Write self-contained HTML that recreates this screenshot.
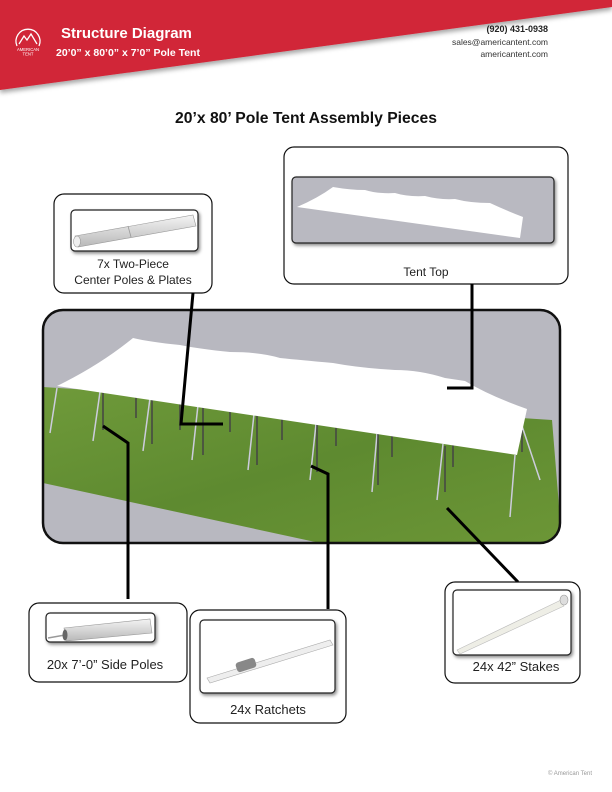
<!DOCTYPE html>
<html><head><meta charset="utf-8"><style>
html,body{margin:0;padding:0;background:#fff}
svg{display:block;font-family:"Liberation Sans",sans-serif}
</style></head><body>
<svg width="612" height="792" viewBox="0 0 612 792" xmlns="http://www.w3.org/2000/svg">
<defs>
<filter id="sh" x="-10%" y="-10%" width="130%" height="140%"><feDropShadow dx="1.5" dy="2" stdDeviation="1.5" flood-color="#000" flood-opacity="0.45"/></filter>
<filter id="hs" x="-5%" y="-20%" width="110%" height="150%"><feDropShadow dx="0" dy="3" stdDeviation="2.5" flood-color="#000" flood-opacity="0.35"/></filter>
<linearGradient id="gr" x1="0" y1="0" x2="1" y2="1"><stop offset="0" stop-color="#6f9a3a"/><stop offset="0.5" stop-color="#5e8a30"/><stop offset="1" stop-color="#6c9636"/></linearGradient>
<linearGradient id="pole" x1="0" y1="0" x2="0" y2="1"><stop offset="0" stop-color="#f4f4f4"/><stop offset="1" stop-color="#b8b8b8"/></linearGradient>
</defs>
<!-- header -->
<polygon points="0,0 612,0 612,7 0,90" fill="#d12537" filter="url(#hs)"/>
<g fill="none" stroke="#fff" stroke-width="1.3">
<path d="M17,46 A12,12 0 1 1 39,46"/>
<path d="M19,44 L24,36 L27,40 L31,34 L37,44"/>
</g>
<text x="28" y="51" font-size="4.2" fill="#fff" text-anchor="middle">AMERICAN</text>
<text x="28" y="55.5" font-size="4.2" fill="#fff" text-anchor="middle">TENT</text>
<text x="61" y="38" font-size="15" font-weight="bold" fill="#fff">Structure Diagram</text>
<text x="56" y="56" font-size="10.5" font-weight="bold" fill="#fff">20’0” x 80’0” x 7’0” Pole Tent</text>
<text x="548" y="32" font-size="9" font-weight="bold" fill="#222" text-anchor="end">(920) 431-0938</text>
<text x="548" y="45" font-size="8.5" fill="#333" text-anchor="end">sales@americantent.com</text>
<text x="548" y="57" font-size="8.5" fill="#333" text-anchor="end">americantent.com</text>
<text x="306" y="123" font-size="16" font-weight="bold" fill="#111" text-anchor="middle" textLength="262" lengthAdjust="spacingAndGlyphs">20’x 80’ Pole Tent Assembly Pieces</text>

<!-- center poles box -->
<rect x="54" y="194" width="158" height="99" rx="10" fill="#fff" stroke="#111" stroke-width="1.2"/>
<rect x="71" y="210" width="127" height="41" rx="4" fill="#fff" stroke="#222" stroke-width="1.2" filter="url(#sh)"/>
<polygon points="75,236 193,215 196,226 78,247" fill="url(#pole)" stroke="#999" stroke-width="0.6"/>
<line x1="128" y1="226" x2="131" y2="237" stroke="#999" stroke-width="0.8"/>
<ellipse cx="77" cy="241.5" rx="3.5" ry="5.5" fill="#eee" stroke="#999" stroke-width="0.6"/>
<text x="133" y="268" font-size="12" fill="#222" text-anchor="middle">7x Two-Piece</text>
<text x="133" y="284" font-size="12" fill="#222" text-anchor="middle">Center Poles &amp; Plates</text>

<!-- tent top box -->
<rect x="284" y="147" width="284" height="137" rx="10" fill="#fff" stroke="#111" stroke-width="1.2"/>
<rect x="292" y="177" width="262" height="66" rx="4" fill="#b9b9c1" stroke="#222" stroke-width="1.2" filter="url(#sh)"/>
<path d="M297,207 Q318,198 333,187 Q350,190 365,190 Q378,194 395,193 Q408,197 425,196 Q440,200 455,199 Q470,203 490,203 Q505,210 523,217 L520,238 Z" fill="#fff"/>
<text x="426" y="276" font-size="12" fill="#222" text-anchor="middle">Tent Top</text>

<!-- main box -->
<rect x="43" y="310" width="517" height="233" rx="20" fill="#b8b8c0"/>
<clipPath id="mc"><rect x="43" y="310" width="517" height="233" rx="20"/></clipPath>
<g clip-path="url(#mc)">
<polygon points="43,387 552,420 562,543 320,543 43,483" fill="url(#gr)"/>
<g stroke="#ccd" stroke-width="1.5">
<line x1="57" y1="388" x2="50" y2="433"/><line x1="100" y1="392" x2="93" y2="441"/>
<line x1="150" y1="398" x2="143" y2="451"/><line x1="198" y1="405" x2="192" y2="460"/>
<line x1="254" y1="414" x2="248" y2="470"/><line x1="316" y1="424" x2="310" y2="480"/>
<line x1="377" y1="434" x2="372" y2="492"/><line x1="443" y1="444" x2="437" y2="500"/>
<line x1="515" y1="455" x2="510" y2="517"/><line x1="520" y1="420" x2="540" y2="480"/>
</g>
<g stroke="#444" stroke-width="1.5">
<line x1="103" y1="392" x2="103" y2="430"/><line x1="136" y1="396" x2="136" y2="418"/>
<line x1="152" y1="398" x2="152" y2="444"/><line x1="180" y1="402" x2="180" y2="430"/>
<line x1="203" y1="406" x2="203" y2="455"/><line x1="230" y1="410" x2="230" y2="432"/>
<line x1="257" y1="414" x2="257" y2="465"/><line x1="282" y1="419" x2="282" y2="440"/>
<line x1="317" y1="424" x2="317" y2="472"/><line x1="336" y1="427" x2="336" y2="446"/>
<line x1="378" y1="434" x2="378" y2="485"/><line x1="392" y1="436" x2="392" y2="457"/>
<line x1="453" y1="445" x2="453" y2="467"/><line x1="445" y1="446" x2="445" y2="492"/>
<line x1="522" y1="430" x2="522" y2="452"/>
</g>
<path d="M57,386 Q100,365 133,338 Q150,342 180,345 Q200,349 230,352 Q260,352 280,358 Q300,360 333,363 Q360,368 395,370 Q420,370 445,378 L465,381 Q490,396 527,409 L517,455 Z" fill="#fff"/>
</g>
<rect x="43" y="310" width="517" height="233" rx="20" fill="none" stroke="#111" stroke-width="2.5"/>

<!-- connectors -->
<g fill="none" stroke="#000" stroke-width="3">
<polyline points="193,293 181,424 223,424"/>
<polyline points="472,284 472,388 447,388"/>
<polyline points="103,426 128,443 128,599"/>
<polyline points="311,466 328,474 328,609"/>
<polyline points="447,508 518,582"/>
</g>

<!-- side poles box -->
<rect x="29" y="603" width="158" height="79" rx="10" fill="#fff" stroke="#111" stroke-width="1.2"/>
<rect x="46" y="613" width="109" height="29" rx="4" fill="#fff" stroke="#222" stroke-width="1.2" filter="url(#sh)"/>
<line x1="48" y1="638" x2="65" y2="635" stroke="#999" stroke-width="1.5"/>
<polygon points="64,628 150,619 152,633 66,641" fill="url(#pole)" stroke="#999" stroke-width="0.6"/>
<ellipse cx="65" cy="635" rx="2.5" ry="5.5" fill="#666"/>
<text x="105" y="669" font-size="13" fill="#222" text-anchor="middle">20x 7’-0” Side Poles</text>

<!-- ratchets box -->
<rect x="190" y="610" width="156" height="113" rx="10" fill="#fff" stroke="#111" stroke-width="1.2"/>
<rect x="200" y="620" width="135" height="73" rx="4" fill="#fff" stroke="#222" stroke-width="1.2" filter="url(#sh)"/>
<polygon points="207,678 330,640 333,645 210,683" fill="#eee" stroke="#aaa" stroke-width="0.6"/>
<rect x="236" y="660" width="20" height="10" rx="3" fill="#888" transform="rotate(-18 246 665)"/>
<text x="268" y="714" font-size="13" fill="#222" text-anchor="middle">24x Ratchets</text>

<!-- stakes box -->
<rect x="445" y="582" width="135" height="101" rx="10" fill="#fff" stroke="#111" stroke-width="1.2"/>
<rect x="453" y="590" width="118" height="65" rx="4" fill="#fff" stroke="#222" stroke-width="1.2" filter="url(#sh)"/>
<polygon points="457,650 561,600 564,606 460,654" fill="#eeeee6" stroke="#bbb" stroke-width="0.6"/>
<ellipse cx="564" cy="600" rx="4" ry="5" fill="#ddd" stroke="#999" stroke-width="0.6"/>
<text x="516" y="671" font-size="13" fill="#222" text-anchor="middle">24x 42” Stakes</text>

<text x="592" y="775" font-size="6" fill="#999" text-anchor="end">© American Tent</text>
</svg>
</body></html>
